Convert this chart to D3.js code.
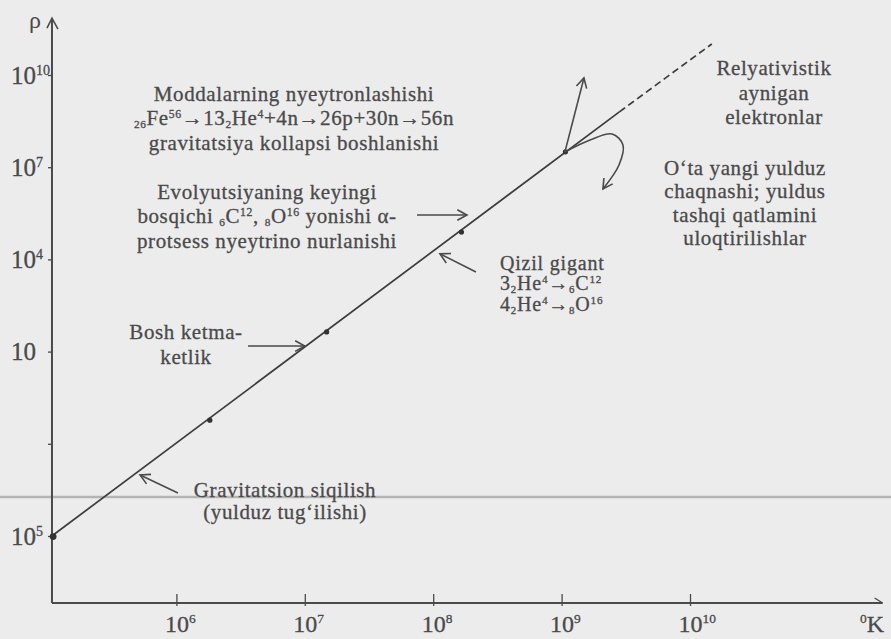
<!DOCTYPE html>
<html>
<head>
<meta charset="utf-8">
<script src="https://cdn.jsdelivr.net/npm/d3@7"></script>
<style>
  body { margin: 0; background: #ececec; }
  svg { display: block; }
  text { font-family: "Liberation Serif", "Times New Roman", serif; }
</style>
</head>
<body>
<div id="chart"></div>
<script>
// axis ticks: temperature (K) and density
const tempTicks = [1e6, 1e7, 1e8, 1e9, 1e10];
const tempLabels = ["10^{6}", "10^{7}", "10^{8}", "10^{9}", "10^{10}"];
const rhoTicks = [1e-5, 1e-2, 1e1, 1e4, 1e7, 1e10];
const rhoLabels = ["10^{5}", "", "10", "10^{4}", "10^{7}", "10^{10}"];

// evolution track, [log10 T, log10 rho]
const trackSolid = [[5.03, -5.0], [9.45, 8.80]];
const trackDashed = [[9.45, 8.80], [10.17, 11.01]];
const trackDots = [[5.04, -5.02], [6.26, -1.23], [7.17, 1.64], [8.22, 4.89], [9.03, 7.50]];

// annotation texts, anchored at [log10 T, log10 rho]
const noteLines = [
  ["Moddalarning nyeytronlashishi", "_{26}Fe^{56}→13_{2}He^{4}+4n→26p+30n→56n", "gravitatsiya kollapsi boshlanishi"],
  ["Evolyutsiyaning keyingi", "bosqichi _{6}C^{12}, _{8}O^{16} yonishi α-", "protsess nyeytrino nurlanishi"],
  ["Relyativistik", "aynigan", "elektronlar"],
  ["O‘ta yangi yulduz", "chaqnashi; yuldus", "tashqi qatlamini", "uloqtirilishlar"],
  ["Qizil gigant", "3_{2}He^{4}→_{6}C^{12}", "4_{2}He^{4}→_{8}O^{16}"],
  ["Bosh ketma-", "ketlik"],
  ["Gravitatsion siqilish", "(yulduz tug‘ilishi)"]
];
const noteAt = [[6.916, 9.155], [6.706, 5.967], [10.654, 10.0], [10.428, 6.748], [8.52, 3.656], [6.075, 1.41], [6.846, -3.731]];

// pointer arrows, tail -> head, [log10 T, log10 rho]
const pointers = [
  [[6.558, 1.18], [7.0, 1.18]],
  [[7.874, 5.446], [8.263, 5.446]],
  [[8.333, 3.59], [8.053, 4.18]],
  [[6.012, -3.60], [5.717, -3.015]],
  [[9.026, 7.50], [9.174, 9.904]]
];
const loopArrow = [[9.026, 7.496], [9.221, 7.886], [9.393, 8.082], [9.478, 7.724], [9.447, 7.073], [9.322, 6.292]];

const width = 891, height = 639;
const ink = "#4a4a4a";
const serif = "'Liberation Serif', 'Times New Roman', serif";

const svg = d3.select("#chart").append("svg")
  .attr("width", width)
  .attr("height", height);

svg.append("rect").attr("width", width).attr("height", height).attr("fill", "#ececec");

const x = d3.scaleLog().domain([1e5, 1e10]).range([48, 690]);
const y = d3.scaleLog().domain([1e-5, 1e10]).range([536, 75]);
const px = lt => x(Math.pow(10, lt));
const py = lr => y(Math.pow(10, lr));

// axis extents in log units
const T0 = 5.031, T1 = 11.5, R0 = -7.18, R1 = 11.85;

// superscript / subscript text
function rich(sel, str, fs) {
  const parts = str.split(/(\^\{[^}]*\}|_\{[^}]*\})/).filter(s => s.length);
  let cur = 0;
  parts.forEach(s => {
    let off = 0, size = fs, t = s;
    if (s[0] === "^") { off = -0.36 * fs; size = 0.56 * fs; t = s.slice(2, -1); }
    else if (s[0] === "_") { off = 0.14 * fs; size = 0.54 * fs; t = s.slice(2, -1); }
    sel.append("tspan").attr("dy", off - cur).attr("font-size", size).text(t);
    cur = off;
  });
  sel.attr("stroke", ink).attr("stroke-width", 0.3);
}

// scanner band across the page
svg.append("line")
  .attr("x1", 0).attr("x2", width).attr("y1", 497).attr("y2", 497)
  .attr("stroke", "#b4b4b4").attr("stroke-width", 2.5);

// axes
svg.append("line")
  .attr("x1", px(T0)).attr("y1", py(R0)).attr("x2", px(T1)).attr("y2", py(R0))
  .attr("stroke", ink).attr("stroke-width", 2);
svg.append("line")
  .attr("x1", px(T0)).attr("y1", py(R0)).attr("x2", px(T0)).attr("y2", py(R1))
  .attr("stroke", ink).attr("stroke-width", 2);

// axis arrow tips
svg.append("path")
  .attr("d", `M${px(T0) - 5},${py(R1) + 10}L${px(T0)},${py(R1)}L${px(T0) + 6},${py(R1) + 11}`)
  .attr("fill", "none").attr("stroke", ink).attr("stroke-width", 1.6);
svg.append("path")
  .attr("d", `M${px(T1) - 8},${py(R0) - 5}L${px(T1)},${py(R0)}`)
  .attr("fill", "none").attr("stroke", ink).attr("stroke-width", 1.4);

const gx = svg.append("g")
  .attr("transform", `translate(0,${py(R0)})`)
  .call(d3.axisBottom(x).tickValues(tempTicks).tickSize(3).tickFormat(""))
  .attr("font-family", serif);
gx.select(".domain").remove();
gx.selectAll(".tick line").attr("y1", -9).attr("y2", 3).attr("stroke", ink).attr("stroke-width", 1.3);
gx.selectAll(".tick text").remove();
gx.selectAll(".tick").each(function (d, i) {
  const t = d3.select(this).append("text")
    .attr("x", -12).attr("y", 29)
    .attr("text-anchor", "start")
    .attr("fill", ink).attr("font-size", 24);
  rich(t, tempLabels[i], 24);
});

const gy = svg.append("g")
  .attr("transform", `translate(${px(T0)},0)`)
  .call(d3.axisLeft(y).tickValues(rhoTicks).tickSize(4).tickFormat(""))
  .attr("font-family", serif);
gy.select(".domain").remove();
gy.selectAll(".tick line").attr("stroke", ink).attr("stroke-width", 1.3);
gy.selectAll(".tick text").remove();
gy.selectAll(".tick").each(function (d, i) {
  if (!rhoLabels[i]) return;
  const t = d3.select(this).append("text")
    .attr("x", -41).attr("y", 8)
    .attr("text-anchor", "start")
    .attr("fill", ink).attr("font-size", 25);
  rich(t, rhoLabels[i], 25);
});

// axis titles
svg.append("text")
  .attr("x", px(T0) - 17).attr("y", py(R1) + 10)
  .attr("text-anchor", "middle").attr("fill", ink).attr("font-size", 24)
  .text("ρ");
const kt = svg.append("text")
  .attr("x", 884).attr("y", 632)
  .attr("text-anchor", "end").attr("fill", ink).attr("font-size", 24);
rich(kt, "^{0}K", 24);

// evolution track
const line = d3.line().x(d => px(d[0])).y(d => py(d[1]));
svg.append("path").datum(trackSolid).attr("d", line)
  .attr("fill", "none").attr("stroke", "#3c3c3c").attr("stroke-width", 1.7);
svg.append("path").datum(trackDashed).attr("d", line)
  .attr("fill", "none").attr("stroke", "#3c3c3c").attr("stroke-width", 1.7)
  .attr("stroke-dasharray", "7,4");
svg.selectAll(".dot").data(trackDots).enter().append("circle")
  .attr("class", "dot")
  .attr("cx", d => px(d[0])).attr("cy", d => py(d[1]))
  .attr("r", (d, i) => (i === 0 ? 3.4 : 2.6))
  .attr("fill", "#333");

// arrows
function drawArrow(pts, curved) {
  const p = pts.map(d => [px(d[0]), py(d[1])]);
  const gen = d3.line().curve(curved ? d3.curveCatmullRom.alpha(0.5) : d3.curveLinear);
  svg.append("path").attr("d", gen(p))
    .attr("fill", "none").attr("stroke", ink).attr("stroke-width", 1.6);
  const a = p[p.length - 2], b = p[p.length - 1];
  const ang = Math.atan2(b[1] - a[1], b[0] - a[0]);
  const len = 11, spread = 0.5;
  const h1 = [b[0] + len * Math.cos(ang + Math.PI - spread), b[1] + len * Math.sin(ang + Math.PI - spread)];
  const h2 = [b[0] + len * Math.cos(ang + Math.PI + spread), b[1] + len * Math.sin(ang + Math.PI + spread)];
  svg.append("path").attr("d", `M${h1}L${b}L${h2}`)
    .attr("fill", "none").attr("stroke", ink).attr("stroke-width", 1.6);
}
pointers.forEach(p => drawArrow(p, false));
drawArrow(loopArrow, true);

// annotation texts
const lineGap = [24.5, 24.5, 24.5, 23.5, 20.5, 25, 22];
noteLines.forEach((lines, k) => {
  const anchor = k === 4 ? "start" : "middle";
  const fs = k === 4 ? 20 : 21;
  lines.forEach((s, j) => {
    const t = svg.append("text")
      .attr("x", px(noteAt[k][0]))
      .attr("y", py(noteAt[k][1]) + j * lineGap[k])
      .attr("text-anchor", anchor)
      .attr("fill", ink)
      .attr("font-size", fs)
      .attr("letter-spacing", k === 4 ? 0.8 : 0.6);
    rich(t, s, fs);
  });
});
</script>
</body>
</html>
